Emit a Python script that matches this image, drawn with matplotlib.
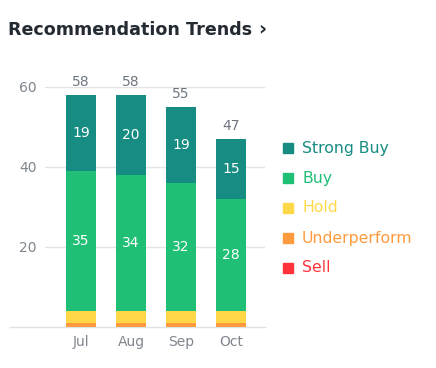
import matplotlib.pyplot as plt
import numpy as np
from matplotlib.patches import Rectangle

months = ["Jul", "Aug", "Sep", "Oct"]
strong_buy = [19, 20, 19, 15]
buy = [35, 34, 32, 28]
hold = [3, 3, 3, 3]
underperform = [1, 1, 1, 1]
sell = [0, 0, 0, 0]

names = ["Strong Buy", "Buy", "Hold", "Underperform", "Sell"]
colors = ["#178c83", "#1fbf75", "#ffd84a", "#ff9b3f", "#ff333a"]

fig = plt.figure(figsize=(4.36, 3.68), dpi=100)
ax = fig.add_axes([45/436, 1-327/368, 220/436, 240/368])

x = np.arange(len(months))
w = 0.6
# stack from the bottom: sell, underperform, hold, buy, strong buy
stack = [sell, underperform, hold, buy, strong_buy]
stack_colors = colors[::-1]
bottom = np.zeros(len(months))
for vals, c in zip(stack, stack_colors):
    vals = np.array(vals)
    ax.bar(x, vals, width=w, bottom=bottom, color=c, zorder=3)
    for i, v in enumerate(vals):
        if v >= 5:
            ax.text(x[i], bottom[i] + v/2, str(v), ha="center", va="center",
                    color="white", fontsize=10, zorder=4)
    bottom += vals

for i, t in enumerate(bottom):
    ax.text(x[i], t + 1.6, f"{t:.0f}", ha="center", va="bottom",
            color="#6e7780", fontsize=10, zorder=4)

ax.set_xlim(-0.72, 3.68)
ax.set_ylim(0, 60)
ax.set_yticks([20, 40, 60])
ax.set_xticks(x, months)
ax.grid(axis="y", color="#e0e4e9", linewidth=1, zorder=0)
for s in ax.spines.values():
    s.set_visible(False)
ax.tick_params(length=0, labelsize=10, labelcolor="#80868e")
ax.tick_params(axis="y", pad=6)
ax.tick_params(axis="x", pad=6)
ax.plot([-0.16, 1], [0, 0], transform=ax.get_yaxis_transform(),
        color="#dfe3e8", linewidth=1, clip_on=False, zorder=2)

# legend
for i, (n, c) in enumerate(zip(names, colors)):
    yc = 148 + 30*i
    fig.patches.append(Rectangle((283/436, 1-(yc+5)/368), 10/436, 10/368,
                                 color=c, transform=fig.transFigure))
    fig.text(302/436, 1-yc/368, n, color=c, fontsize=11.3, va="center", ha="left")

fig.text(8/436, 1-30/368, "Recommendation Trends", fontsize=12.6, fontweight="bold",
         color="#232a31", va="center", ha="left")
fig.text(258/436, 1-29/368, "\u203a", fontsize=14, fontweight="bold",
         color="#232a31", va="center", ha="left")

fig.savefig("out.png")
